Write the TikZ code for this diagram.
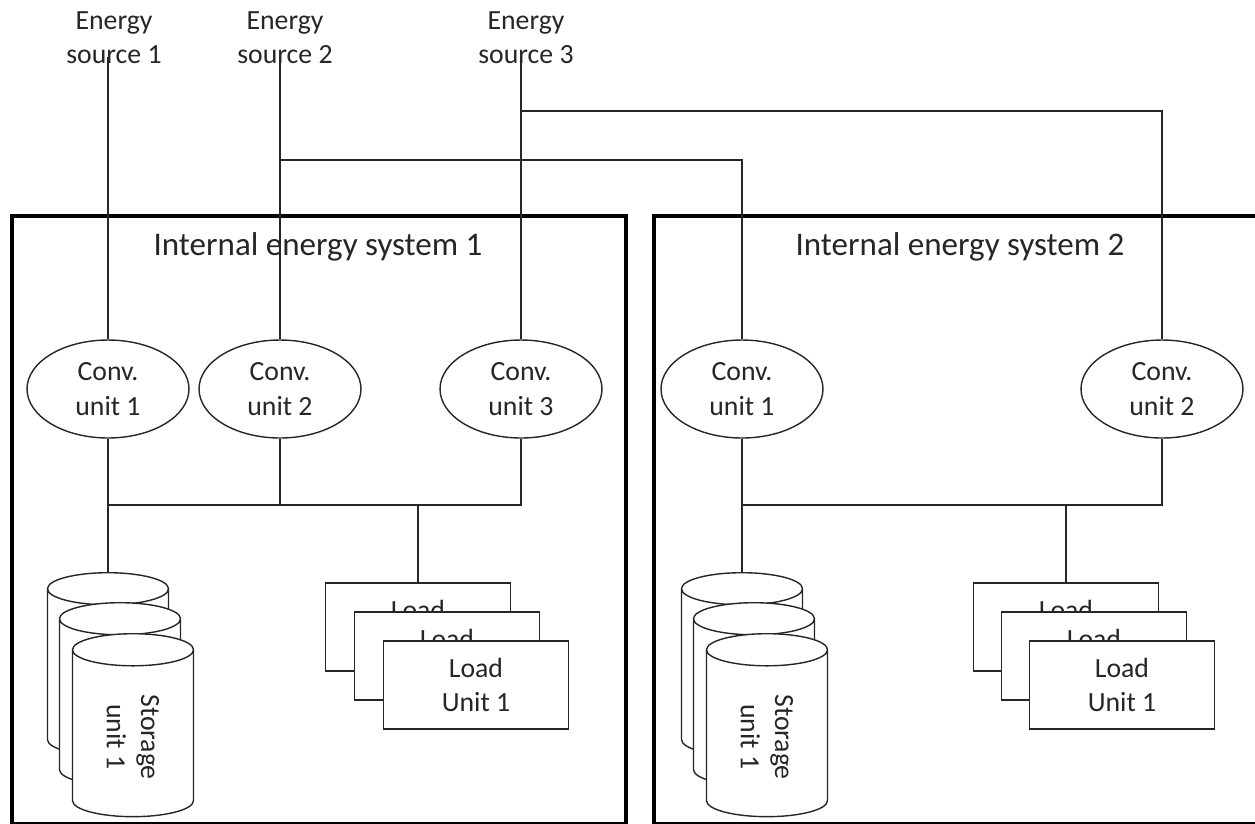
\documentclass[tikz,border=0pt]{standalone}
\usepackage{fontspec}
\setmainfont{Carlito}
\usetikzlibrary{shapes.geometric}
\tikzset{
  wire/.style={line width=0.8pt, draw=black!85},
  sysbox/.style={line width=2.3pt, draw=black},
  unitfont/.style={font=\fontsize{15.8}{19.5}\selectfont, text=black!85},
  convunit/.style={ellipse, draw=black!85, line width=0.8pt, fill=white,
    minimum width=3.24cm, minimum height=1.96cm, inner sep=0pt, align=center, unitfont},
  loadunit/.style={rectangle, draw=black!85, line width=0.8pt, fill=white,
    minimum width=3.7cm, minimum height=1.76cm, align=center, unitfont},
  storeunit/.style={cylinder, draw=black!85, line width=0.8pt, fill=white,
    rotate=-90, shape border rotate=180, aspect=0.5,
    minimum width=2.42cm, minimum height=3.66cm, align=center, unitfont},
  srclabel/.style={anchor=south, inner sep=0pt, align=center, unitfont},
  systitle/.style={anchor=base, inner sep=0pt, font=\fontsize{18.8}{22}\selectfont, text=black!85}
}
\begin{document}
\begin{tikzpicture}[x=0.02cm, y=-0.02cm]
    \clip (0,0) rectangle (1255,823);
    % system boxes
    \draw[sysbox] (12,216) rectangle (626,824);
    \draw[sysbox] (654,216) rectangle (1275,824);
    \node[systitle] (title1) at (318,255) {Internal energy system 1};
    \node[systitle] (title2) at (960,255) {Internal energy system 2};
    % energy sources
    \node[srclabel] (src1) at (114,64) {Energy\\source 1};
    \node[srclabel] (src2) at (285,64) {Energy\\source 2};
    \node[srclabel] (src3) at (526,64) {Energy\\source 3};
    % conversion units
    \node[convunit] (cu11) at (108,389) {Conv.\\unit 1};
    \node[convunit] (cu12) at (280,389) {Conv.\\unit 2};
    \node[convunit] (cu13) at (521,389) {Conv.\\unit 3};
    \node[convunit] (cu21) at (742,389) {Conv.\\unit 1};
    \node[convunit] (cu22) at (1162,389) {Conv.\\unit 2};
    % storage units
    \node[storeunit] (st11) at (108,676) {Storage\\unit 1};
    \node[storeunit] (st12) at (120,706) {Storage\\unit 1};
    \node[storeunit] (st13) at (133,737) {Storage\\unit 1};
    \node[storeunit] (st21) at (742,676) {Storage\\unit 1};
    \node[storeunit] (st22) at (754,706) {Storage\\unit 1};
    \node[storeunit] (st23) at (767,737) {Storage\\unit 1};
    % load units
    \node[loadunit] (ld11) at (418,627) {Load\\Unit 1};
    \node[loadunit] (ld12) at (447,656) {Load\\Unit 1};
    \node[loadunit] (ld13) at (476,685) {Load\\Unit 1};
    \node[loadunit] (ld21) at (1066,627) {Load\\Unit 1};
    \node[loadunit] (ld22) at (1094,656) {Load\\Unit 1};
    \node[loadunit] (ld23) at (1122,685) {Load\\Unit 1};
    % feeds from the sources
    \coordinate (j2) at (280,160);
    \coordinate (j3) at (521,111);
    \draw[wire] ([yshift=4pt]src1.south -| cu11.north) -- (cu11.north);
    \draw[wire] ([yshift=4pt]src2.south -| cu12.north) -- (cu12.north);
    \draw[wire] ([yshift=4pt]src3.south -| cu13.north) -- (cu13.north);
    \draw[wire] (j2) -| (cu21.north);
    \draw[wire] (j3) -| (cu22.north);
    % internal buses
    \coordinate (bus1) at (0,505);
    \draw[wire] (cu11.south) -- (cu11.south |- bus1) -- (cu13.south |- bus1) -- (cu13.south);
    \draw[wire] (cu12.south) -- (cu12.south |- bus1);
    \draw[wire] (st11.top |- bus1) -- (st11.top);
    \draw[wire] (ld11.north |- bus1) -- (ld11.north);
    \draw[wire] (cu21.south) -- (cu21.south |- bus1) -- (cu22.south |- bus1) -- (cu22.south);
    \draw[wire] (st21.top |- bus1) -- (st21.top);
    \draw[wire] (ld21.north |- bus1) -- (ld21.north);
\end{tikzpicture}
\end{document}
